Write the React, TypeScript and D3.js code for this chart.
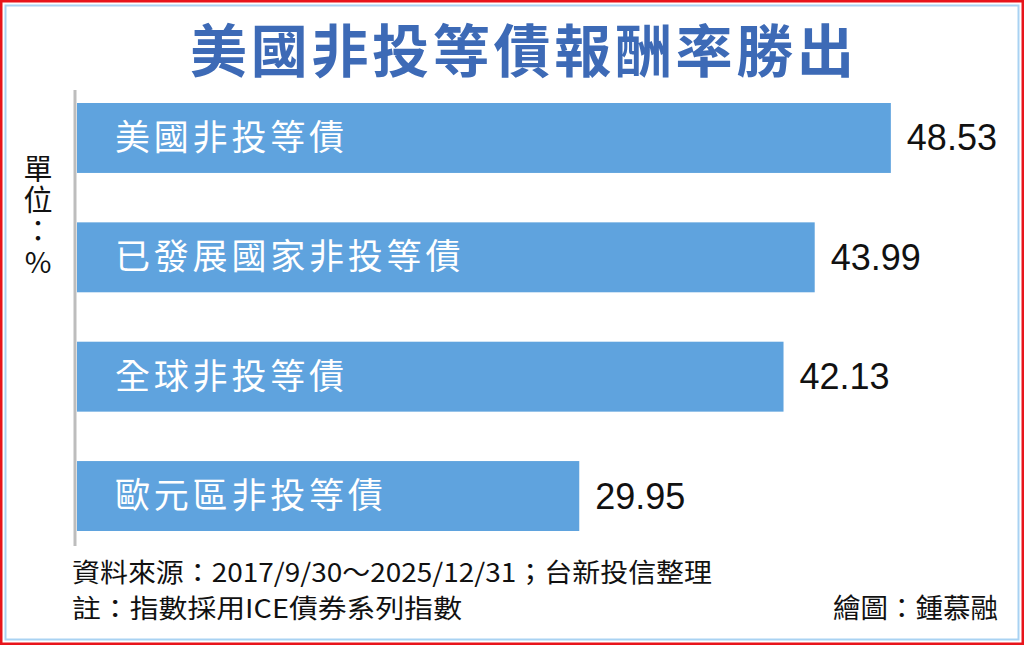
import React, { useEffect } from "react";
import * as d3 from "d3";

const W = 1024;
const H = 645;

const title = "美國非投等債報酬率勝出";
const categories = ["美國非投等債", "已發展國家非投等債", "全球非投等債", "歐元區非投等債"];
const values = [48.53, 43.99, 42.13, 29.95];
const unitLabel = "單位：%";
const sourceNote = "資料來源：2017/9/30～2025/12/31；台新投信整理";
const footNote = "註：指數採用ICE債券系列指數";
const credit = "繪圖：鍾慕融";

const CJK = "'Noto Sans CJK TC', 'Noto Sans CJK SC', sans-serif";

export default function App() {
  useEffect(() => {
    document.body.style.margin = "0";
  }, []);

  const x = d3.scaleLinear().domain([0, 50]).range([77, 77 + 16.77 * 50]);
  const y = d3
    .scaleBand<string>()
    .domain(categories)
    .range([103, 531])
    .paddingInner(0.414)
    .paddingOuter(0);

  return (
    <svg
      width={W}
      height={H}
      viewBox={`0 0 ${W} ${H}`}
      style={{ position: "absolute", left: 0, top: 0, display: "block" }}
    >
      <rect x={0} y={0} width={W} height={H} fill="#ffffff" />
      {/* frame */}
      <rect x={1.25} y={1.25} width={W - 2.5} height={H - 2.5} fill="none" stroke="#e8141b" strokeWidth={2.5} />
      <rect x={5.5} y={5.5} width={W - 11} height={H - 11} fill="none" stroke="#a9d2f2" strokeWidth={2} />

      {/* title */}
      <text
        x={522}
        y={72}
        textAnchor="middle"
        fontFamily={CJK}
        fontWeight={700}
        fontSize={57}
        fill="#3d6ab6"
        textLength={664}
        lengthAdjust="spacing"
      >
        {title}
      </text>

      {/* unit label, written vertically */}
      <text
        x={38}
        y={154}
        fontFamily={CJK}
        fontSize={29}
        letterSpacing={2}
        fill="#111"
        style={{ writingMode: "vertical-rl", textOrientation: "upright" } as React.CSSProperties}
      >
        {unitLabel}
      </text>

      {/* bars */}
      {categories.map((c, i) => {
        const by = y(c)!;
        const bh = y.bandwidth();
        const cy = by + bh / 2;
        return (
          <g key={c}>
            <rect x={x(0)} y={by} width={x(values[i]) - x(0)} height={bh} fill="#5fa3de" />
            <text
              x={115}
              y={cy + 12}
              fontFamily={CJK}
              fontSize={35}
              letterSpacing={3.8}
              fill="#ffffff"
            >
              {c}
            </text>
            <text
              x={x(values[i]) + 16}
              y={cy + 12.5}
              fontFamily="'Liberation Sans', Arial, sans-serif"
              fontSize={36}
              fill="#111"
            >
              {d3.format(".2f")(values[i])}
            </text>
          </g>
        );
      })}

      {/* axis line */}
      <line x1={75} x2={75} y1={90} y2={546} stroke="#bdbdbd" strokeWidth={3} />

      {/* footer */}
      <text
        x={72}
        y={582}
        fontFamily={CJK}
        fontSize={26}
        fill="#111"
        textLength={640}
        lengthAdjust="spacingAndGlyphs"
      >
        {sourceNote}
      </text>
      <text
        x={72}
        y={618}
        fontFamily={CJK}
        fontSize={26}
        fill="#111"
        textLength={390}
        lengthAdjust="spacingAndGlyphs"
      >
        {footNote}
      </text>
      <text
        x={833}
        y={618}
        fontFamily={CJK}
        fontSize={27}
        fill="#111"
        textLength={165}
        lengthAdjust="spacingAndGlyphs"
      >
        {credit}
      </text>
    </svg>
  );
}
